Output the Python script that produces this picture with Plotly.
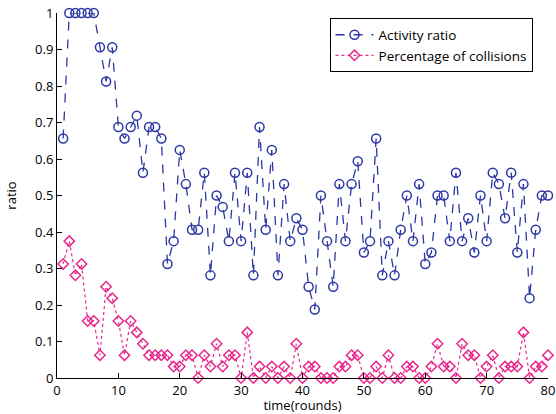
import plotly.graph_objects as go

rounds = list(range(1, 81))
activity_32nds = [21, 32, 32, 32, 32, 32, 29, 26, 29, 22,
                  21, 22, 23, 18, 22, 22, 21, 10, 12, 20,
                  17, 13, 13, 18, 9, 16, 15, 12, 18, 12,
                  18, 9, 22, 13, 20, 9, 17, 12, 14, 13,
                  8, 6, 16, 12, 8, 17, 12, 17, 19, 11,
                  12, 21, 9, 12, 9, 13, 16, 12, 17, 10,
                  11, 16, 16, 12, 18, 12, 14, 11, 16, 12,
                  18, 17, 14, 18, 11, 17, 7, 13, 16, 16]
collision_32nds = [10, 12, 9, 10, 5, 5, 2, 8, 7, 5,
                   2, 5, 4, 3, 2, 2, 2, 2, 1, 1,
                   2, 2, 0, 2, 1, 3, 1, 2, 2, 0,
                   4, 0, 1, 0, 1, 0, 1, 0, 3, 0,
                   1, 1, 0, 0, 0, 1, 1, 2, 2, 0,
                   0, 1, 0, 2, 0, 0, 1, 1, 0, 0,
                   1, 3, 1, 1, 0, 3, 2, 2, 0, 1,
                   2, 0, 1, 1, 1, 4, 0, 1, 1, 2]
activity_ratio = [v / 32 for v in activity_32nds]
collision_pct = [v / 32 for v in collision_32nds]

blue = "#2b37a3"
pink = "#e8288c"
font = "Open Sans"

fig = go.Figure()
fig.add_trace(go.Scatter(
    x=rounds, y=activity_ratio, mode="lines+markers", name="Activity ratio",
    line=dict(color=blue, width=1.3, dash="dash"),
    marker=dict(symbol="circle-open", size=9, color=blue, line=dict(width=1.5, color=blue)),
    cliponaxis=False,
))
fig.add_trace(go.Scatter(
    x=rounds, y=collision_pct, mode="lines+markers", name="Percentage of collisions",
    line=dict(color=pink, width=1.2, dash="dot"),
    marker=dict(symbol="diamond-open", size=8, color=pink, line=dict(width=1.5, color=pink)),
    cliponaxis=False,
))

axis_common = dict(showline=True, linecolor="black", linewidth=1, ticks="inside",
                   ticklen=5, tickcolor="black", showgrid=False, zeroline=False,
                   mirror=False, automargin=False,
                   tickfont=dict(family=font, size=13, color="black"))
fig.update_layout(
    width=556, height=414,
    margin=dict(l=56.5, r=8.3, t=13, b=36),
    paper_bgcolor="white", plot_bgcolor="white",
    font=dict(family=font, size=13, color="black"),
    xaxis=dict(range=[0, 80], dtick=10, tick0=0,
               title=dict(text="time(rounds)", font=dict(family=font, size=13), standoff=0),
               **axis_common),
    yaxis=dict(range=[0, 1], dtick=0.1, tick0=0,
               title=dict(text="ratio", font=dict(family=font, size=13)),
               **axis_common),
    legend=dict(x=0.555, y=0.985, xanchor="left", yanchor="top",
                bordercolor="black", borderwidth=1, bgcolor="white",
                font=dict(family=font, size=13.5), tracegroupgap=0,
                itemwidth=38),
    showlegend=True,
)
fig.write_html("out.html", config={"displayModeBar": False},
               post_script="document.body.style.margin='0px';document.body.style.overflow='hidden';")
